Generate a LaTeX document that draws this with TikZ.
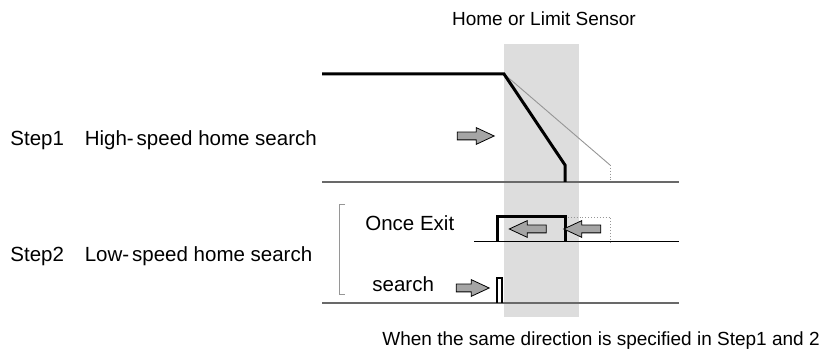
\documentclass[tikz,border=0pt]{standalone}
\usepackage{fontspec}
\setmainfont{Liberation Sans}
\usepackage{tikz}
\usetikzlibrary{shapes.arrows,positioning}
\definecolor{sensorgray}{RGB}{221,221,221}
\definecolor{arrowgray} {RGB}{165,165,165}
\definecolor{basegray}  {RGB}{105,105,105}
\definecolor{ghostgray} {RGB}{150,150,150}
\tikzset{
  lbl/.style     ={font=\fontsize{9.5}{11}\selectfont, inner sep=0pt},
  steplbl/.style ={lbl, font=\fontsize{10.25}{12}\selectfont},
  groundline/.style={draw=basegray, line width=0.75pt},
  motion/.style  ={line width=1.5pt, line join=miter},
  ghost/.style   ={draw=ghostgray, line width=0.45pt},
  ghostdot/.style={ghost, densely dotted},
  blockarr/.style={single arrow, draw, fill=arrowgray, line width=0.4pt,
                   minimum height=#1, single arrow head extend=2.25pt,
                   single arrow tip angle=50, inner sep=1.75pt},
  blockarr/.default=18.5pt,
  backarr/.style ={blockarr, shape border rotate=180},
}

\begin{document}
\begin{tikzpicture}[x=0.5pt,y=-0.5pt]
  \useasboundingbox (0,0) rectangle (827,356);
  %% sensor zone
  \fill[sensorgray] (504,44) rectangle (579,317);
  \node[lbl] (sensor) at (544,19) {Home or Limit Sensor};

  %% Step1
  \node[steplbl, anchor=west] (step1) at (10,140) {Step1};
  \node[steplbl, right=10pt of step1] (high) {High-\kern1.5pt speed home search};
  \draw[groundline] (322,182) -- (679,182);
  \draw[ghost] (504,74) -- (610,165);
  \draw[ghostdot] (610,165) -- (610,182);
  \draw[motion] (322,74) -- (504,74) -- (565,165) -- (565,182);
  \node[blockarr] (fwd1) at (471.5,136) {};

  %% Step2
  \node[steplbl, anchor=west] (step2) at (10,256) {Step2};
  \node[steplbl, right=10pt of step2] (low) {Low-\kern1.5pt speed home search};
  \draw[ghost] (345,204) -- (339,204) -- (339,294) -- (345,294);
  \node[steplbl, anchor=west] (exit) at (365,223) {Once Exit};
  \node[steplbl, anchor=west] (search) at (372,284) {search};
  \draw[line width=0.5pt] (474,242) -- (679,242);
  \draw[ghostdot] (565,217) -- (610,217) -- (610,242);
  \draw[motion] (497,242) -- (497,217) -- (565,217) -- (565,242);
  \node[backarr] (back1) at (532,229) {};
  \node[backarr] (back2) at (586.5,229) {};
  \draw[groundline] (322,303) -- (679,303);
  \draw[motion, line width=1.2pt] (497.2,303) -- (497.2,278) -- (501.8,278) -- (501.8,303);
  \node[blockarr=16.5pt] (fwd2) at (468.5,288) {};

  \node[lbl, anchor=west] (note) at (382,341)
    {When the same direction is specified in Step1 and 2};
\end{tikzpicture}
\end{document}
